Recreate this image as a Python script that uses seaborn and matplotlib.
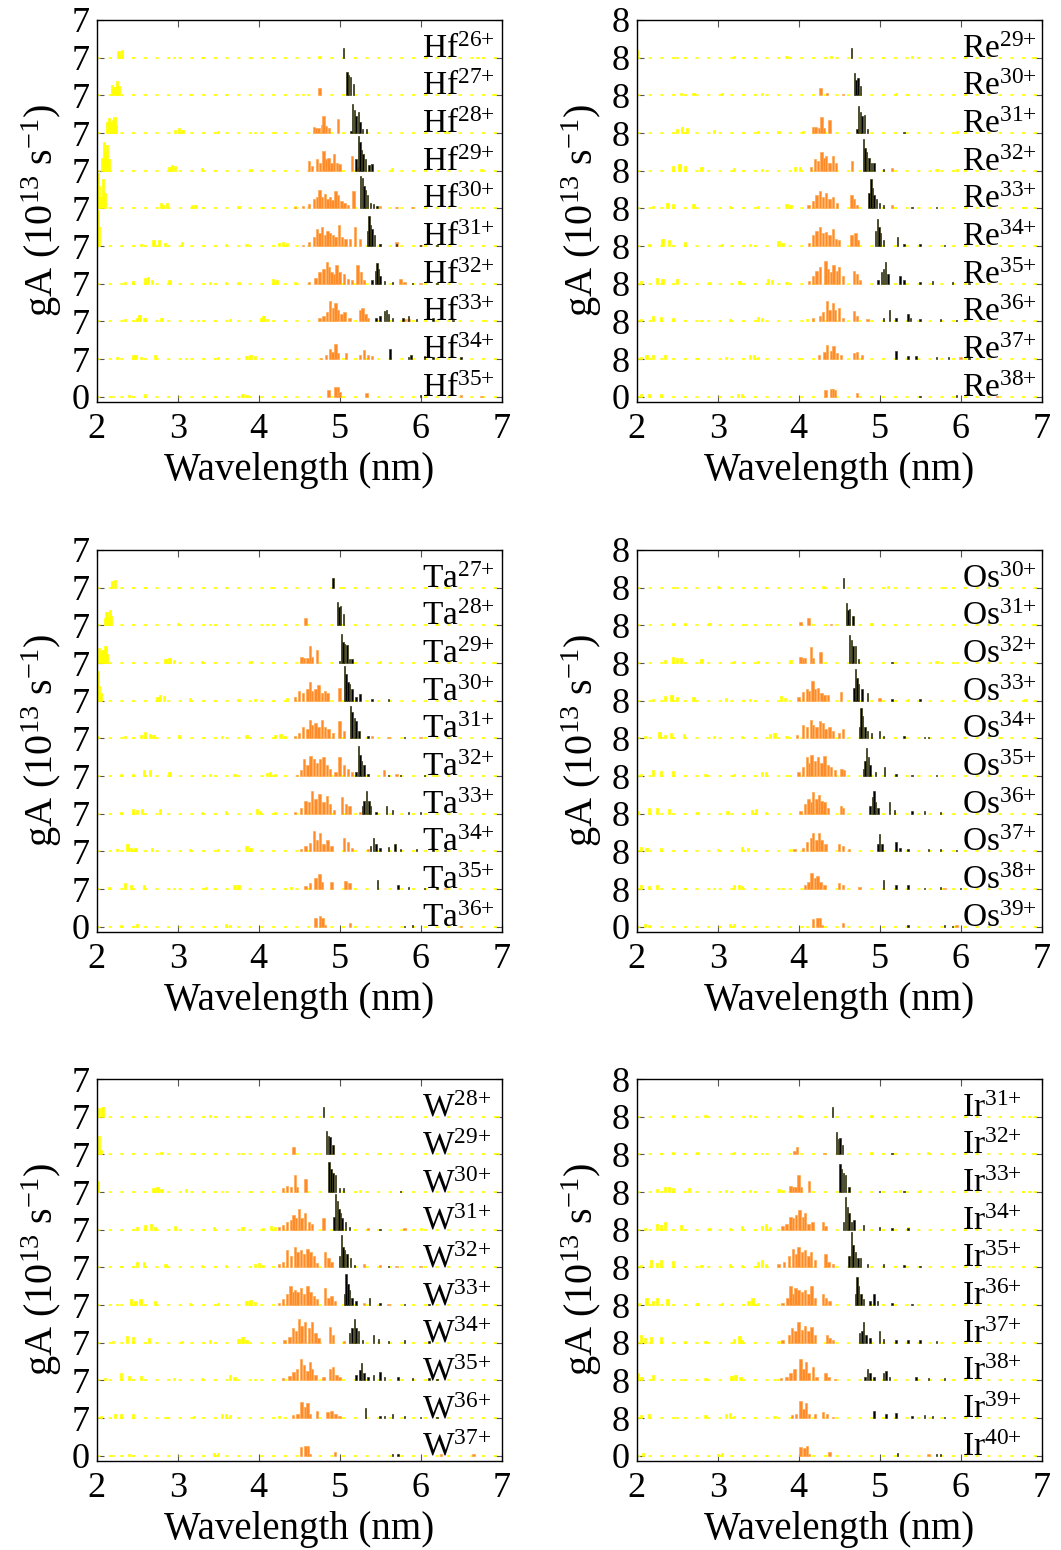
import matplotlib
matplotlib.use('Agg')
import matplotlib.pyplot as plt
import seaborn as sns

# line lists: (wavelength nm, gA in units of the offset step)
# each panel: ions from top to bottom, lines split by colour group

HF_CHARGES = ['26', '27', '28', '29', '30', '31', '32', '33', '34', '35']
HF_YELLOW = [
    [(2.27, 0.18), (2.31, 0.2), (2.95, 0.03), (3.3, 0.03), (3.9, 0.03), (4.75, 0.04), (6.7, 0.03)],
    [(2.19, 0.28), (2.22, 0.22), (2.25, 0.38), (2.27, 0.25), (3.15, 0.04), (3.6, 0.03), (4.55, 0.03), (6.9, 0.03)],
    [(2.13, 0.3), (2.15, 0.4), (2.18, 0.28), (2.2, 0.35), (2.22, 0.42), (2.24, 0.2), (2.97, 0.08), (3.02, 0.12),
     (3.06, 0.08), (3.5, 0.05), (3.95, 0.04), (4.2, 0.04), (6.3, 0.06)],
    [(2.07, 0.35), (2.09, 0.75), (2.11, 0.5), (2.13, 0.68), (2.15, 0.3), (2.9, 0.1), (2.93, 0.15), (2.97, 0.12),
     (3.3, 0.06), (3.9, 0.04), (5.65, 0.06), (6.75, 0.05)],
    [(2.01, 0.93), (2.03, 0.6), (2.05, 0.3), (2.08, 0.77), (2.1, 0.4), (2.79, 0.15), (2.82, 0.1), (2.87, 0.13),
     (3.18, 0.1), (3.22, 0.08), (3.75, 0.06), (4.05, 0.04), (4.45, 0.05), (6.7, 0.04)],
    [(2.01, 0.96), (2.03, 0.5), (2.55, 0.06), (2.7, 0.15), (2.77, 0.17), (2.84, 0.08), (3.05, 0.1), (3.6, 0.06),
     (3.85, 0.05), (4.25, 0.08), (4.3, 0.12), (4.35, 0.08), (6.35, 0.04)],
    [(2.35, 0.05), (2.45, 0.06), (2.6, 0.15), (2.63, 0.17), (2.68, 0.1), (2.9, 0.1), (3.4, 0.05), (3.6, 0.05),
     (3.75, 0.05), (4.18, 0.12), (4.22, 0.1), (4.45, 0.05)],
    [(2.35, 0.05), (2.5, 0.1), (2.53, 0.17), (2.58, 0.08), (2.6, 0.1), (2.8, 0.1), (3.25, 0.04), (3.65, 0.06),
     (4.03, 0.1), (4.06, 0.13), (4.1, 0.07), (6.8, 0.03)],
    [(2.25, 0.05), (2.45, 0.12), (2.48, 0.1), (2.55, 0.06), (2.72, 0.1), (3.1, 0.04), (3.5, 0.05), (3.85, 0.08),
     (3.9, 0.12), (3.95, 0.07)],
    [(2.2, 0.02), (2.4, 0.05), (2.6, 0.06), (3.8, 0.06), (3.85, 0.04)],
]
HF_ORANGE = [
    [],
    [(4.75, 0.2)],
    [(4.68, 0.15), (4.71, 0.14), (4.74, 0.13), (4.78, 0.2), (4.8, 0.44), (4.83, 0.18), (4.87, 0.12), (4.98, 0.38)],
    [(4.62, 0.25), (4.66, 0.12), (4.72, 0.3), (4.76, 0.2), (4.8, 0.52), (4.83, 0.3), (4.86, 0.35), (4.9, 0.2),
     (4.93, 0.45), (4.97, 0.2), (5.0, 0.18), (5.15, 0.4), (5.22, 0.1)],
    [(4.45, 0.03), (4.55, 0.05), (4.62, 0.12), (4.68, 0.25), (4.72, 0.3), (4.75, 0.48), (4.78, 0.3), (4.82, 0.38),
     (4.85, 0.25), (4.88, 0.3), (4.91, 0.22), (4.95, 0.47), (4.98, 0.35), (5.02, 0.2), (5.06, 0.15), (5.1, 0.1),
     (5.17, 0.45), (5.5, 0.05), (5.7, 0.04), (5.9, 0.03)],
    [(4.55, 0.04), (4.62, 0.1), (4.68, 0.25), (4.72, 0.45), (4.75, 0.35), (4.78, 0.5), (4.82, 0.3), (4.85, 0.4),
     (4.88, 0.35), (4.92, 0.3), (4.95, 0.25), (4.99, 0.55), (5.03, 0.25), (5.07, 0.2), (5.13, 0.2), (5.19, 0.5),
     (5.25, 0.2), (5.5, 0.06), (5.7, 0.12), (6.0, 0.04)],
    [(4.62, 0.05), (4.7, 0.15), (4.75, 0.3), (4.8, 0.4), (4.84, 0.57), (4.87, 0.45), (4.9, 0.3), (4.93, 0.25),
     (4.96, 0.5), (5.0, 0.3), (5.05, 0.25), (5.1, 0.12), (5.15, 0.1), (5.22, 0.5), (5.26, 0.3), (5.3, 0.1),
     (5.75, 0.12), (5.8, 0.05), (6.0, 0.03)],
    [(4.75, 0.08), (4.8, 0.15), (4.84, 0.25), (4.88, 0.53), (4.92, 0.35), (4.95, 0.48), (4.98, 0.3), (5.02, 0.2),
     (5.06, 0.25), (5.12, 0.1), (5.25, 0.3), (5.28, 0.35), (5.32, 0.2), (5.35, 0.1), (5.8, 0.06), (5.85, 0.05)],
    [(4.77, 0.04), (4.83, 0.1), (4.88, 0.28), (4.91, 0.2), (4.95, 0.4), (4.98, 0.15), (5.08, 0.15), (5.25, 0.1),
     (5.3, 0.25), (5.35, 0.12), (5.4, 0.08)],
    [(4.86, 0.17), (4.95, 0.27), (4.98, 0.25), (5.0, 0.12), (5.33, 0.1), (6.5, 0.04), (6.75, 0.03)],
]
HF_BLACK = [
    [(5.05, 0.25)],
    [(5.09, 0.63), (5.11, 0.55), (5.13, 0.48), (5.17, 0.3)],
    [(5.14, 0.05), (5.16, 0.78), (5.18, 0.6), (5.2, 0.45), (5.23, 0.55), (5.25, 0.3), (5.28, 0.1), (5.33, 0.1)],
    [(5.2, 0.3), (5.23, 0.92), (5.25, 0.75), (5.27, 0.55), (5.29, 0.45), (5.32, 0.3), (5.36, 0.15), (5.4, 0.18)],
    [(5.26, 0.85), (5.28, 0.8), (5.3, 0.6), (5.32, 0.5), (5.34, 0.35), (5.38, 0.15), (5.42, 0.12), (5.46, 0.06)],
    [(5.34, 0.4), (5.36, 0.8), (5.38, 0.55), (5.4, 0.45), (5.43, 0.3), (5.5, 0.05), (5.7, 0.05), (6.0, 0.03),
     (6.2, 0.03)],
    [(5.4, 0.1), (5.44, 0.35), (5.46, 0.55), (5.48, 0.4), (5.5, 0.2), (5.55, 0.08), (5.65, 0.04), (5.9, 0.03),
     (6.2, 0.03)],
    [(5.45, 0.08), (5.5, 0.15), (5.55, 0.28), (5.58, 0.3), (5.6, 0.2), (5.65, 0.1), (5.78, 0.08), (5.85, 0.15),
     (5.95, 0.05), (6.15, 0.1), (6.4, 0.04)],
    [(5.62, 0.26), (5.85, 0.06), (5.88, 0.1), (6.05, 0.08), (6.15, 0.06), (6.5, 0.05)],
    [(6.0, 0.04)],
]

TA_CHARGES = ['27', '28', '29', '30', '31', '32', '33', '34', '35', '36']
TA_YELLOW = [
    [(2.19, 0.18), (2.23, 0.2), (2.6, 0.03), (3.0, 0.03), (3.6, 0.03), (4.15, 0.03), (5.0, 0.03), (6.3, 0.03)],
    [(2.1, 0.2), (2.12, 0.35), (2.14, 0.22), (2.16, 0.4), (2.18, 0.25), (3.0, 0.06), (3.4, 0.04), (4.1, 0.04),
     (6.2, 0.05)],
    [(2.03, 0.4), (2.05, 0.3), (2.07, 0.35), (2.09, 0.3), (2.11, 0.45), (2.13, 0.25), (2.85, 0.1), (2.9, 0.12),
     (2.95, 0.08), (3.3, 0.06), (3.9, 0.05), (5.5, 0.05), (6.9, 0.04)],
    [(2.01, 0.78), (2.03, 0.4), (2.05, 0.2), (2.75, 0.1), (2.78, 0.15), (2.83, 0.12), (3.15, 0.08), (3.75, 0.05),
     (3.95, 0.05), (4.35, 0.06)],
    [(2.0, 0.05), (2.35, 0.05), (2.55, 0.1), (2.6, 0.16), (2.66, 0.12), (2.7, 0.08), (3.02, 0.1), (3.55, 0.06),
     (3.85, 0.08), (4.2, 0.08), (4.27, 0.12), (4.32, 0.06)],
    [(2.3, 0.05), (2.45, 0.05), (2.58, 0.15), (2.66, 0.16), (2.9, 0.1), (3.4, 0.05), (3.7, 0.05), (4.1, 0.08),
     (4.14, 0.12), (4.2, 0.06), (6.15, 0.04)],
    [(2.3, 0.04), (2.45, 0.12), (2.5, 0.1), (2.56, 0.12), (2.78, 0.12), (3.3, 0.04), (3.6, 0.06), (3.98, 0.12),
     (4.02, 0.08), (4.2, 0.04)],
    [(2.25, 0.05), (2.38, 0.2), (2.42, 0.1), (2.48, 0.1), (2.68, 0.1), (3.15, 0.05), (3.5, 0.06), (3.85, 0.15),
     (3.9, 0.1)],
    [(2.15, 0.05), (2.35, 0.15), (2.42, 0.1), (2.58, 0.12), (2.95, 0.04), (3.35, 0.05), (3.7, 0.12), (3.75, 0.1),
     (4.4, 0.05)],
    [(2.3, 0.04), (2.5, 0.06), (3.6, 0.06), (3.65, 0.05)],
]
TA_ORANGE = [
    [],
    [(4.58, 0.2)],
    [(4.53, 0.15), (4.56, 0.14), (4.6, 0.12), (4.63, 0.45), (4.66, 0.15), (4.72, 0.35)],
    [(4.45, 0.1), (4.5, 0.25), (4.55, 0.2), (4.6, 0.3), (4.63, 0.5), (4.66, 0.25), (4.7, 0.3), (4.74, 0.42),
     (4.78, 0.2), (4.82, 0.25), (4.85, 0.2), (5.0, 0.35)],
    [(4.45, 0.05), (4.5, 0.15), (4.55, 0.3), (4.6, 0.25), (4.63, 0.48), (4.66, 0.35), (4.7, 0.4), (4.74, 0.3),
     (4.78, 0.5), (4.82, 0.3), (4.86, 0.25), (4.92, 0.15), (5.0, 0.45), (5.05, 0.2), (5.4, 0.05), (5.6, 0.04),
     (6.0, 0.04)],
    [(4.47, 0.04), (4.52, 0.15), (4.56, 0.45), (4.6, 0.3), (4.64, 0.52), (4.68, 0.45), (4.72, 0.35), (4.76, 0.45),
     (4.8, 0.5), (4.84, 0.3), (4.88, 0.2), (4.95, 0.1), (5.0, 0.5), (5.05, 0.3), (5.1, 0.2), (5.15, 0.1),
     (5.55, 0.15), (5.7, 0.05)],
    [(4.45, 0.05), (4.52, 0.15), (4.58, 0.35), (4.62, 0.3), (4.66, 0.6), (4.7, 0.4), (4.75, 0.53), (4.8, 0.3),
     (4.84, 0.48), (4.88, 0.25), (4.93, 0.1), (5.03, 0.45), (5.08, 0.25), (5.12, 0.2), (5.25, 0.05)],
    [(4.52, 0.06), (4.58, 0.15), (4.63, 0.22), (4.68, 0.55), (4.72, 0.3), (4.76, 0.5), (4.8, 0.2), (4.85, 0.3),
     (4.9, 0.15), (5.05, 0.35), (5.1, 0.25), (5.15, 0.1), (5.35, 0.05)],
    [(4.58, 0.08), (4.63, 0.15), (4.7, 0.3), (4.75, 0.4), (4.78, 0.2), (4.9, 0.18), (5.07, 0.22), (5.12, 0.15),
     (6.3, 0.04)],
    [(4.7, 0.22), (4.76, 0.28), (4.79, 0.24), (4.82, 0.05), (5.13, 0.1), (6.5, 0.03)],
]
TA_BLACK = [
    [(4.92, 0.25)],
    [(4.97, 0.63), (4.99, 0.5), (5.01, 0.52), (5.05, 0.3)],
    [(5.0, 0.05), (5.02, 0.78), (5.04, 0.55), (5.06, 0.5), (5.09, 0.48), (5.12, 0.1), (5.15, 0.1)],
    [(5.06, 0.92), (5.08, 0.7), (5.1, 0.5), (5.12, 0.45), (5.15, 0.3), (5.2, 0.1), (5.25, 0.18), (5.4, 0.05),
     (5.6, 0.04)],
    [(5.13, 0.85), (5.15, 0.7), (5.18, 0.55), (5.2, 0.45), (5.24, 0.2), (5.35, 0.06), (5.8, 0.03)],
    [(5.2, 0.1), (5.23, 0.8), (5.25, 0.55), (5.27, 0.4), (5.3, 0.3), (5.35, 0.06), (5.6, 0.04), (5.75, 0.04),
     (6.05, 0.03)],
    [(5.28, 0.2), (5.3, 0.35), (5.33, 0.6), (5.36, 0.35), (5.38, 0.2), (5.45, 0.05), (5.58, 0.2), (5.65, 0.1),
     (5.85, 0.05), (6.0, 0.04)],
    [(5.38, 0.15), (5.42, 0.35), (5.45, 0.2), (5.5, 0.08), (5.6, 0.12), (5.68, 0.2), (5.75, 0.05), (5.95, 0.06),
     (6.15, 0.06), (6.3, 0.04)],
    [(5.47, 0.25), (5.72, 0.1), (5.85, 0.06), (6.05, 0.04), (6.2, 0.05)],
    [(5.8, 0.03), (5.9, 0.04)],
]

W_CHARGES = ['28', '29', '30', '31', '32', '33', '34', '35', '36', '37']
W_YELLOW = [
    [(2.03, 0.22), (2.07, 0.25), (2.6, 0.03), (3.4, 0.04), (3.85, 0.03), (4.65, 0.03), (5.7, 0.03), (6.95, 0.03)],
    [(2.03, 0.5), (2.05, 0.12), (2.8, 0.06), (3.2, 0.04), (3.8, 0.03), (4.7, 0.03), (5.5, 0.04), (6.95, 0.03)],
    [(2.01, 0.28), (2.02, 0.1), (2.7, 0.1), (2.75, 0.12), (2.8, 0.08), (3.1, 0.07), (3.55, 0.04), (3.9, 0.04),
     (5.25, 0.05), (6.5, 0.04)],
    [(2.5, 0.08), (2.6, 0.13), (2.67, 0.15), (2.72, 0.08), (2.97, 0.1), (3.45, 0.06), (3.8, 0.06), (4.05, 0.05),
     (4.15, 0.1), (4.2, 0.08), (6.0, 0.05)],
    [(2.3, 0.04), (2.5, 0.15), (2.58, 0.13), (2.85, 0.1), (3.3, 0.05), (3.6, 0.06), (3.95, 0.08), (4.0, 0.12),
     (4.05, 0.07)],
    [(2.25, 0.04), (2.42, 0.15), (2.48, 0.1), (2.54, 0.15), (2.72, 0.1), (3.15, 0.05), (3.5, 0.05), (3.85, 0.1),
     (3.9, 0.14), (3.95, 0.07), (6.8, 0.04)],
    [(2.2, 0.05), (2.37, 0.18), (2.45, 0.15), (2.65, 0.12), (3.05, 0.05), (3.4, 0.06), (3.75, 0.1), (3.8, 0.15),
     (3.85, 0.08)],
    [(2.1, 0.05), (2.3, 0.2), (2.4, 0.12), (2.55, 0.12), (2.95, 0.05), (3.3, 0.06), (3.65, 0.15), (3.7, 0.1),
     (3.95, 0.04)],
    [(2.05, 0.06), (2.23, 0.12), (2.3, 0.1), (2.45, 0.12), (2.85, 0.04), (3.2, 0.06), (3.55, 0.1), (3.6, 0.12),
     (3.65, 0.08), (4.25, 0.05)],
    [(2.2, 0.03), (2.4, 0.05), (3.45, 0.06), (3.5, 0.06)],
]
W_ORANGE = [
    [],
    [(4.43, 0.2)],
    [(4.3, 0.1), (4.35, 0.15), (4.4, 0.12), (4.45, 0.45), (4.47, 0.12), (4.58, 0.35)],
    [(4.25, 0.08), (4.3, 0.12), (4.35, 0.2), (4.4, 0.25), (4.43, 0.4), (4.46, 0.3), (4.5, 0.55), (4.53, 0.3),
     (4.57, 0.45), (4.62, 0.2), (4.66, 0.15), (4.8, 0.3), (5.35, 0.05), (5.8, 0.04)],
    [(4.25, 0.08), (4.3, 0.15), (4.35, 0.45), (4.4, 0.3), (4.45, 0.55), (4.48, 0.4), (4.52, 0.45), (4.56, 0.35),
     (4.6, 0.5), (4.64, 0.4), (4.68, 0.3), (4.72, 0.12), (4.82, 0.4), (4.86, 0.25), (4.9, 0.15), (5.3, 0.1),
     (5.5, 0.05), (5.7, 0.04), (6.0, 0.03)],
    [(4.25, 0.05), (4.3, 0.15), (4.35, 0.3), (4.39, 0.5), (4.42, 0.35), (4.45, 0.4), (4.48, 0.35), (4.52, 0.45),
     (4.56, 0.3), (4.6, 0.5), (4.64, 0.35), (4.68, 0.25), (4.72, 0.15), (4.82, 0.45), (4.86, 0.2), (4.9, 0.25),
     (4.94, 0.1), (5.3, 0.06), (5.6, 0.04)],
    [(4.32, 0.06), (4.38, 0.15), (4.42, 0.4), (4.46, 0.3), (4.5, 0.62), (4.53, 0.45), (4.57, 0.55), (4.62, 0.4),
     (4.66, 0.55), (4.7, 0.25), (4.74, 0.12), (4.88, 0.42), (4.92, 0.2), (5.05, 0.05)],
    [(4.3, 0.05), (4.38, 0.12), (4.43, 0.22), (4.47, 0.3), (4.52, 0.58), (4.56, 0.4), (4.6, 0.25), (4.63, 0.5),
     (4.66, 0.3), (4.7, 0.15), (4.8, 0.1), (4.88, 0.3), (4.92, 0.35), (4.96, 0.15), (5.0, 0.08)],
    [(4.42, 0.08), (4.48, 0.12), (4.53, 0.42), (4.57, 0.3), (4.6, 0.4), (4.63, 0.1), (4.72, 0.18), (4.85, 0.15),
     (4.9, 0.2), (4.95, 0.12), (5.0, 0.05)],
    [(4.52, 0.22), (4.58, 0.27), (4.61, 0.26), (4.63, 0.05), (4.94, 0.1), (6.25, 0.04), (6.65, 0.04)],
]
W_BLACK = [
    [(4.8, 0.25)],
    [(4.84, 0.62), (4.86, 0.5), (4.88, 0.45), (4.92, 0.25)],
    [(4.87, 0.8), (4.89, 0.6), (4.92, 0.5), (4.95, 0.45), (5.0, 0.1), (5.05, 0.1), (5.75, 0.04)],
    [(4.93, 0.35), (4.95, 0.95), (4.97, 0.75), (4.99, 0.55), (5.01, 0.45), (5.03, 0.3), (5.07, 0.2), (5.12, 0.08),
     (5.5, 0.03)],
    [(5.0, 0.3), (5.02, 0.85), (5.04, 0.55), (5.06, 0.45), (5.09, 0.35), (5.13, 0.25), (5.18, 0.06), (5.6, 0.03)],
    [(5.06, 0.3), (5.08, 0.82), (5.1, 0.55), (5.12, 0.4), (5.15, 0.2), (5.2, 0.1), (5.37, 0.2), (5.5, 0.05),
     (5.8, 0.04), (6.1, 0.03)],
    [(5.12, 0.25), (5.15, 0.4), (5.18, 0.62), (5.2, 0.4), (5.23, 0.3), (5.28, 0.06), (5.42, 0.2), (5.48, 0.1),
     (5.6, 0.04), (5.8, 0.08), (6.1, 0.04)],
    [(5.2, 0.15), (5.25, 0.28), (5.27, 0.45), (5.3, 0.2), (5.35, 0.08), (5.42, 0.15), (5.5, 0.22), (5.55, 0.1),
     (5.72, 0.08), (5.9, 0.06), (6.1, 0.05), (6.2, 0.04)],
    [(5.32, 0.28), (5.5, 0.05), (5.55, 0.06), (5.65, 0.1), (5.8, 0.05), (6.0, 0.04), (6.2, 0.04)],
    [(5.65, 0.04), (5.72, 0.04)],
]

RE_CHARGES = ['29', '30', '31', '32', '33', '34', '35', '36', '37', '38']
RE_YELLOW = [
    [(2.0, 0.2), (2.5, 0.03), (3.2, 0.04), (3.85, 0.04), (4.4, 0.04), (5.4, 0.04), (6.9, 0.03)],
    [(2.55, 0.06), (2.7, 0.07), (3.05, 0.07), (3.55, 0.05), (5.2, 0.05), (5.35, 0.04)],
    [(2.5, 0.1), (2.56, 0.15), (2.62, 0.12), (2.95, 0.08), (3.5, 0.05), (3.75, 0.05), (4.05, 0.06), (5.95, 0.05)],
    [(2.45, 0.12), (2.53, 0.18), (2.6, 0.12), (2.8, 0.1), (3.2, 0.06), (3.55, 0.05), (3.95, 0.1), (4.02, 0.1),
     (5.7, 0.05), (5.95, 0.04)],
    [(2.2, 0.05), (2.38, 0.15), (2.45, 0.12), (2.7, 0.12), (3.15, 0.06), (3.5, 0.05), (3.85, 0.12), (3.9, 0.08),
     (6.8, 0.04)],
    [(2.15, 0.05), (2.32, 0.18), (2.4, 0.15), (2.6, 0.12), (3.05, 0.05), (3.4, 0.05), (3.75, 0.14), (3.8, 0.08),
     (6.6, 0.03)],
    [(2.05, 0.08), (2.25, 0.15), (2.32, 0.12), (2.5, 0.12), (2.9, 0.05), (3.27, 0.06), (3.62, 0.13), (3.67, 0.1),
     (3.85, 0.04)],
    [(2.05, 0.06), (2.2, 0.15), (2.3, 0.12), (2.45, 0.1), (2.8, 0.04), (3.15, 0.07), (3.5, 0.12), (3.55, 0.1),
     (4.1, 0.05)],
    [(2.05, 0.06), (2.12, 0.12), (2.2, 0.1), (2.35, 0.1), (2.75, 0.04), (3.1, 0.05), (3.4, 0.12), (3.45, 0.1),
     (3.5, 0.06), (4.0, 0.04)],
    [(2.05, 0.06), (2.15, 0.06), (2.3, 0.06), (3.25, 0.08), (3.3, 0.06)],
]
RE_ORANGE = [
    [],
    [(4.27, 0.2), (4.35, 0.05), (4.55, 0.04)],
    [(4.18, 0.15), (4.21, 0.15), (4.25, 0.12), (4.28, 0.42), (4.31, 0.12), (4.38, 0.35)],
    [(4.15, 0.1), (4.2, 0.3), (4.24, 0.25), (4.28, 0.5), (4.31, 0.35), (4.34, 0.4), (4.38, 0.2), (4.42, 0.38),
     (4.46, 0.2), (4.66, 0.25), (5.15, 0.06)],
    [(4.12, 0.08), (4.18, 0.2), (4.22, 0.35), (4.26, 0.45), (4.3, 0.3), (4.34, 0.42), (4.38, 0.25), (4.42, 0.3),
     (4.47, 0.15), (4.65, 0.35), (4.68, 0.25), (4.72, 0.1), (5.15, 0.08)],
    [(4.13, 0.08), (4.18, 0.3), (4.22, 0.4), (4.26, 0.5), (4.3, 0.35), (4.34, 0.38), (4.38, 0.3), (4.42, 0.45),
     (4.46, 0.2), (4.5, 0.15), (4.65, 0.3), (4.7, 0.35), (4.73, 0.15)],
    [(4.13, 0.06), (4.18, 0.2), (4.22, 0.35), (4.26, 0.45), (4.33, 0.6), (4.36, 0.4), (4.4, 0.3), (4.43, 0.5),
     (4.47, 0.35), (4.5, 0.45), (4.55, 0.2), (4.68, 0.35), (4.72, 0.25), (4.76, 0.1)],
    [(4.18, 0.08), (4.26, 0.15), (4.3, 0.25), (4.35, 0.55), (4.38, 0.3), (4.42, 0.5), (4.45, 0.3), (4.5, 0.35),
     (4.55, 0.1), (4.68, 0.28), (4.72, 0.15), (4.85, 0.05)],
    [(4.25, 0.1), (4.32, 0.2), (4.35, 0.38), (4.4, 0.22), (4.43, 0.35), (4.47, 0.15), (4.52, 0.1), (4.68, 0.15),
     (4.72, 0.2), (4.78, 0.1), (6.0, 0.05)],
    [(4.33, 0.18), (4.4, 0.2), (4.42, 0.2), (4.45, 0.18), (4.72, 0.1), (6.45, 0.03)],
]
RE_BLACK = [
    [(4.65, 0.25)],
    [(4.69, 0.58), (4.71, 0.42), (4.73, 0.45), (4.76, 0.25)],
    [(4.72, 0.1), (4.74, 0.72), (4.76, 0.55), (4.78, 0.45), (4.81, 0.47), (4.85, 0.1), (5.3, 0.04)],
    [(4.8, 0.85), (4.82, 0.6), (4.84, 0.5), (4.87, 0.35), (4.9, 0.2), (4.93, 0.2), (5.05, 0.05)],
    [(4.87, 0.4), (4.89, 0.78), (4.91, 0.55), (4.93, 0.35), (4.96, 0.25), (5.0, 0.15), (5.05, 0.1), (5.4, 0.04),
     (5.7, 0.04)],
    [(4.95, 0.4), (4.97, 0.72), (4.99, 0.5), (5.01, 0.35), (5.05, 0.15), (5.22, 0.25), (5.3, 0.06), (5.5, 0.05),
     (5.8, 0.03)],
    [(4.98, 0.1), (5.02, 0.3), (5.05, 0.4), (5.07, 0.58), (5.1, 0.25), (5.25, 0.2), (5.3, 0.1), (5.5, 0.05),
     (5.65, 0.08), (5.9, 0.04), (6.1, 0.03)],
    [(5.05, 0.08), (5.12, 0.3), (5.2, 0.08), (5.35, 0.2), (5.38, 0.1), (5.5, 0.05), (5.75, 0.05), (5.95, 0.04)],
    [(5.2, 0.22), (5.35, 0.08), (5.45, 0.08), (5.7, 0.05), (5.85, 0.05), (6.1, 0.04)],
    [(5.5, 0.03), (5.95, 0.04)],
]

OS_CHARGES = ['30', '31', '32', '33', '34', '35', '36', '37', '38', '39']
OS_YELLOW = [
    [(2.5, 0.03), (3.0, 0.05), (3.6, 0.03), (4.3, 0.04), (5.1, 0.04), (5.8, 0.03)],
    [(2.45, 0.05), (2.6, 0.06), (2.9, 0.05), (3.35, 0.04), (3.65, 0.04), (4.9, 0.05), (6.9, 0.04)],
    [(2.35, 0.07), (2.45, 0.15), (2.5, 0.12), (2.55, 0.13), (2.8, 0.1), (3.2, 0.05), (3.5, 0.05), (3.9, 0.07),
     (5.7, 0.05), (5.95, 0.04)],
    [(2.2, 0.05), (2.35, 0.12), (2.43, 0.15), (2.5, 0.1), (2.7, 0.1), (3.1, 0.06), (3.4, 0.05), (3.78, 0.12),
     (3.83, 0.08), (5.35, 0.05), (6.8, 0.04)],
    [(2.1, 0.05), (2.28, 0.16), (2.35, 0.1), (2.42, 0.14), (2.58, 0.12), (2.95, 0.05), (3.3, 0.06), (3.65, 0.12),
     (3.7, 0.14), (3.85, 0.05), (6.5, 0.03)],
    [(2.05, 0.06), (2.2, 0.15), (2.3, 0.14), (2.45, 0.14), (2.85, 0.05), (3.2, 0.06), (3.55, 0.12), (3.6, 0.1),
     (3.85, 0.04), (6.8, 0.03)],
    [(2.02, 0.06), (2.15, 0.15), (2.25, 0.15), (2.4, 0.12), (2.75, 0.05), (3.12, 0.06), (3.42, 0.1), (3.47, 0.12),
     (3.6, 0.05)],
    [(2.05, 0.12), (2.12, 0.1), (2.3, 0.1), (2.6, 0.04), (3.0, 0.05), (3.3, 0.12), (3.37, 0.1), (3.6, 0.04),
     (3.9, 0.05)],
    [(2.05, 0.1), (2.15, 0.08), (2.25, 0.1), (2.6, 0.03), (2.95, 0.04), (3.2, 0.1), (3.26, 0.12), (3.3, 0.08),
     (3.8, 0.04)],
    [(2.1, 0.06), (2.15, 0.04), (3.15, 0.08), (3.2, 0.06), (4.1, 0.03)],
]
OS_ORANGE = [
    [],
    [(4.02, 0.08), (4.12, 0.2), (4.4, 0.04)],
    [(4.02, 0.15), (4.05, 0.12), (4.08, 0.12), (4.15, 0.42), (4.18, 0.12), (4.27, 0.3)],
    [(4.0, 0.1), (4.05, 0.22), (4.1, 0.3), (4.13, 0.25), (4.17, 0.52), (4.2, 0.3), (4.24, 0.35), (4.28, 0.2),
     (4.32, 0.15), (4.36, 0.15), (4.52, 0.22), (5.0, 0.08)],
    [(3.98, 0.08), (4.05, 0.35), (4.1, 0.3), (4.15, 0.5), (4.18, 0.35), (4.22, 0.3), (4.26, 0.45), (4.3, 0.4),
     (4.33, 0.25), (4.38, 0.3), (4.42, 0.2), (4.5, 0.15), (4.55, 0.25)],
    [(4.0, 0.1), (4.05, 0.25), (4.1, 0.5), (4.13, 0.35), (4.16, 0.55), (4.2, 0.4), (4.24, 0.5), (4.28, 0.35),
     (4.32, 0.52), (4.36, 0.3), (4.4, 0.25), (4.45, 0.15), (4.53, 0.2), (4.56, 0.15)],
    [(4.02, 0.08), (4.08, 0.25), (4.12, 0.4), (4.16, 0.3), (4.18, 0.58), (4.22, 0.4), (4.25, 0.5), (4.28, 0.35),
     (4.32, 0.3), (4.36, 0.15), (4.52, 0.2), (4.55, 0.15)],
    [(3.95, 0.05), (4.05, 0.1), (4.1, 0.25), (4.15, 0.35), (4.18, 0.5), (4.22, 0.3), (4.25, 0.48), (4.28, 0.3),
     (4.33, 0.2), (4.5, 0.2), (4.55, 0.15), (4.62, 0.05)],
    [(4.08, 0.12), (4.12, 0.2), (4.16, 0.42), (4.2, 0.3), (4.23, 0.35), (4.27, 0.2), (4.32, 0.12), (4.5, 0.15),
     (4.55, 0.1), (4.75, 0.05), (5.8, 0.04)],
    [(4.18, 0.2), (4.23, 0.22), (4.26, 0.22), (4.29, 0.05), (4.55, 0.1), (5.95, 0.04)],
]
OS_BLACK = [
    [(4.55, 0.25)],
    [(4.59, 0.6), (4.61, 0.42), (4.63, 0.44), (4.67, 0.25)],
    [(4.63, 0.75), (4.65, 0.6), (4.67, 0.45), (4.7, 0.45), (4.74, 0.1), (5.15, 0.04)],
    [(4.68, 0.35), (4.7, 0.85), (4.72, 0.6), (4.74, 0.45), (4.78, 0.3), (4.85, 0.2), (5.15, 0.05), (5.5, 0.04)],
    [(4.75, 0.3), (4.77, 0.8), (4.79, 0.6), (4.82, 0.3), (4.85, 0.2), (4.9, 0.15), (5.0, 0.2), (5.05, 0.05),
     (5.3, 0.05), (5.55, 0.04), (5.6, 0.04)],
    [(4.8, 0.2), (4.82, 0.4), (4.84, 0.75), (4.86, 0.5), (4.88, 0.3), (4.95, 0.1), (5.06, 0.25), (5.2, 0.05),
     (5.4, 0.04), (5.7, 0.04)],
    [(4.88, 0.2), (4.91, 0.45), (4.93, 0.6), (4.95, 0.3), (4.98, 0.15), (5.12, 0.3), (5.18, 0.1), (5.4, 0.06),
     (5.55, 0.06), (5.75, 0.04)],
    [(4.98, 0.2), (5.0, 0.45), (5.03, 0.2), (5.2, 0.25), (5.25, 0.1), (5.35, 0.05), (5.6, 0.06), (5.75, 0.06),
     (5.95, 0.04)],
    [(5.05, 0.25), (5.2, 0.1), (5.35, 0.1), (5.55, 0.04), (5.75, 0.05), (6.0, 0.04)],
    [(5.35, 0.04), (5.8, 0.04), (5.9, 0.03)],
]

IR_CHARGES = ['31', '32', '33', '34', '35', '36', '37', '38', '39', '40']
IR_YELLOW = [
    [(2.45, 0.04), (2.85, 0.05), (3.4, 0.04), (4.0, 0.05), (4.9, 0.04), (6.85, 0.03)],
    [(2.3, 0.04), (2.45, 0.06), (2.75, 0.07), (3.2, 0.05), (3.55, 0.04), (4.9, 0.05), (5.6, 0.05), (6.9, 0.04)],
    [(2.25, 0.07), (2.35, 0.12), (2.4, 0.13), (2.45, 0.1), (2.65, 0.1), (3.1, 0.05), (3.4, 0.05), (3.75, 0.08),
     (3.8, 0.06), (5.25, 0.05), (5.5, 0.05), (6.85, 0.04)],
    [(2.1, 0.05), (2.25, 0.15), (2.3, 0.12), (2.35, 0.2), (2.55, 0.12), (2.9, 0.05), (3.15, 0.05), (3.3, 0.1),
     (3.55, 0.1), (3.6, 0.15), (3.65, 0.08), (5.35, 0.06)],
    [(2.05, 0.06), (2.18, 0.2), (2.25, 0.12), (2.3, 0.2), (2.45, 0.18), (2.8, 0.06), (3.15, 0.1), (3.3, 0.06),
     (3.5, 0.15), (3.55, 0.2), (3.6, 0.1), (6.4, 0.04)],
    [(2.03, 0.06), (2.12, 0.18), (2.2, 0.12), (2.25, 0.2), (2.38, 0.15), (2.75, 0.05), (3.05, 0.06), (3.38, 0.1),
     (3.43, 0.18), (3.5, 0.06)],
    [(2.05, 0.2), (2.1, 0.12), (2.18, 0.15), (2.3, 0.14), (2.6, 0.05), (2.85, 0.05), (3.2, 0.1), (3.27, 0.18),
     (3.3, 0.08), (3.75, 0.04)],
    [(2.02, 0.2), (2.06, 0.1), (2.2, 0.15), (2.55, 0.04), (2.85, 0.06), (3.17, 0.12), (3.22, 0.15), (3.28, 0.1),
     (3.7, 0.04), (6.9, 0.04)],
    [(2.05, 0.08), (2.15, 0.1), (2.5, 0.03), (2.85, 0.07), (3.1, 0.1), (3.15, 0.14), (3.2, 0.06), (3.7, 0.05)],
    [(2.08, 0.06), (3.0, 0.05), (3.05, 0.06), (3.6, 0.03)],
]
IR_ORANGE = [
    [],
    [(3.95, 0.08), (3.98, 0.2), (4.32, 0.04)],
    [(3.9, 0.15), (3.93, 0.12), (3.96, 0.12), (4.0, 0.45), (4.03, 0.12), (4.13, 0.3)],
    [(3.8, 0.1), (3.85, 0.15), (3.9, 0.35), (3.93, 0.3), (3.97, 0.4), (4.01, 0.52), (4.05, 0.35), (4.08, 0.45),
     (4.12, 0.15), (4.17, 0.2), (4.3, 0.2), (4.33, 0.1)],
    [(3.75, 0.1), (3.82, 0.15), (3.88, 0.3), (3.93, 0.5), (3.97, 0.35), (4.0, 0.55), (4.04, 0.4), (4.08, 0.45),
     (4.12, 0.3), (4.15, 0.4), (4.2, 0.2), (4.33, 0.35), (4.37, 0.15), (4.42, 0.1)],
    [(3.8, 0.06), (3.86, 0.2), (3.9, 0.5), (3.93, 0.3), (3.96, 0.45), (4.0, 0.4), (4.04, 0.35), (4.08, 0.4),
     (4.12, 0.3), (4.16, 0.5), (4.2, 0.2), (4.3, 0.3), (4.34, 0.2), (4.38, 0.1)],
    [(3.8, 0.08), (3.88, 0.2), (3.92, 0.38), (3.96, 0.3), (4.0, 0.55), (4.04, 0.35), (4.08, 0.45), (4.12, 0.3),
     (4.16, 0.42), (4.2, 0.2), (4.35, 0.2), (4.38, 0.12), (4.42, 0.06)],
    [(3.78, 0.05), (3.85, 0.08), (3.9, 0.2), (3.95, 0.3), (4.02, 0.58), (4.06, 0.3), (4.09, 0.5), (4.12, 0.2),
     (4.18, 0.35), (4.22, 0.1), (4.33, 0.2), (4.37, 0.1), (4.45, 0.04)],
    [(3.92, 0.08), (3.97, 0.12), (4.02, 0.45), (4.06, 0.25), (4.09, 0.4), (4.13, 0.12), (4.2, 0.1), (4.3, 0.15),
     (4.35, 0.12), (4.42, 0.04)],
    [(4.02, 0.22), (4.07, 0.2), (4.1, 0.25), (4.13, 0.05), (4.38, 0.1), (5.6, 0.04)],
]
IR_BLACK = [
    [(4.42, 0.25)],
    [(4.47, 0.6), (4.49, 0.42), (4.51, 0.44), (4.54, 0.25), (5.15, 0.03)],
    [(4.51, 0.75), (4.53, 0.6), (4.55, 0.5), (4.58, 0.45), (4.62, 0.12), (5.0, 0.04), (5.3, 0.03)],
    [(4.55, 0.2), (4.58, 0.88), (4.6, 0.6), (4.62, 0.45), (4.65, 0.2), (4.68, 0.25), (4.8, 0.12), (5.0, 0.08),
     (5.15, 0.04), (5.35, 0.05)],
    [(4.62, 0.3), (4.65, 0.95), (4.67, 0.6), (4.7, 0.4), (4.73, 0.25), (4.76, 0.25), (4.85, 0.1), (5.05, 0.1),
     (5.3, 0.05), (5.5, 0.04)],
    [(4.7, 0.3), (4.72, 0.75), (4.74, 0.5), (4.77, 0.3), (4.8, 0.15), (4.88, 0.1), (4.93, 0.3), (4.97, 0.12),
     (5.15, 0.05), (5.4, 0.04)],
    [(4.75, 0.25), (4.78, 0.3), (4.8, 0.55), (4.83, 0.2), (4.88, 0.12), (5.0, 0.3), (5.05, 0.1), (5.2, 0.08),
     (5.35, 0.08), (5.5, 0.06), (5.7, 0.04)],
    [(4.82, 0.1), (4.85, 0.3), (4.88, 0.2), (4.93, 0.1), (5.05, 0.2), (5.08, 0.25), (5.12, 0.1), (5.45, 0.08),
     (5.6, 0.05), (5.8, 0.05)],
    [(4.93, 0.2), (5.08, 0.12), (5.2, 0.14), (5.4, 0.05), (5.55, 0.08), (5.65, 0.06), (5.8, 0.04)],
    [(5.22, 0.08), (5.7, 0.05), (5.75, 0.04)],
]

sns.set_style('ticks')
plt.rcParams['font.family'] = ['Liberation Serif', 'DejaVu Serif']
plt.rcParams['mathtext.fontset'] = 'custom'
plt.rcParams['mathtext.rm'] = 'Liberation Serif'
plt.rcParams['mathtext.it'] = 'Liberation Serif:italic'
plt.rcParams['mathtext.bf'] = 'Liberation Serif:bold'
plt.rcParams['text.color'] = 'black'
plt.rcParams['axes.labelcolor'] = 'black'
plt.rcParams['xtick.color'] = 'black'
plt.rcParams['ytick.color'] = 'black'

YELLOW = '#ffff00'
ORANGE = '#ff8a2a'
ORANGE_EDGE = '#ffa850'
BLACK = '#000000'
BLACK_EDGE = '#3c3c14'


def draw_panel(ax, element, charges, yellow, orange, black, digit):
    n = len(charges)
    for i in range(n):
        base = n - 1 - i
        ax.hlines(base, 2, 7, color=YELLOW, lw=1.2, linestyles=(0, (2, 5)), zorder=1)
        groups = [(yellow[i], YELLOW, YELLOW, 0.028, 2),
                  (orange[i], ORANGE, ORANGE_EDGE, 0.03, 3),
                  (black[i], BLACK, BLACK_EDGE, 0.018, 4)]
        for lines, fc, ec, w, z in groups:
            if lines:
                wl = [p[0] for p in lines]
                h = [p[1] for p in lines]
                ax.bar(wl, h, width=w, bottom=base, color=fc, edgecolor=ec, linewidth=0.5, zorder=z)
        ax.text(6.02, base, element + '$^{' + charges[i] + '{+}}$', fontsize=24,
                ha='left', va='baseline', zorder=6)
    ax.set_xlim(2, 7)
    ax.set_ylim(-0.14, n)
    ax.set_xticks([2, 3, 4, 5, 6, 7])
    ax.set_yticks(range(n + 1))
    ax.set_yticklabels(['0'] + [digit] * n)
    ax.tick_params(direction='in', top=True, right=True, length=5, width=0.8,
                   color='#555555', labelcolor='black', labelsize=26)
    ax.tick_params(axis='x', pad=8)
    ax.tick_params(axis='y', pad=5)
    for s in ax.spines.values():
        s.set_color('black')
        s.set_linewidth(1.0)
    ax.set_xlabel('Wavelength (nm)', fontsize=28)
    ax.set_ylabel('gA (10$^{13}$ s$^{-1}$)', fontsize=29)
    ax.xaxis.set_label_coords(0.5, -0.13)
    ax.yaxis.set_label_coords(-0.08, 0.5)


fig = plt.figure(figsize=(10.61, 15.5), dpi=100)
W_AX = 405 / 1061
H_AX = 382 / 1550
lefts = [96.7 / 1061, 636.7 / 1061]
bottoms = [1 - 402 / 1550, 1 - 932 / 1550, 1 - 1461 / 1550]

panels = [
    (0, 0, 'Hf', HF_CHARGES, HF_YELLOW, HF_ORANGE, HF_BLACK, '7'),
    (0, 1, 'Re', RE_CHARGES, RE_YELLOW, RE_ORANGE, RE_BLACK, '8'),
    (1, 0, 'Ta', TA_CHARGES, TA_YELLOW, TA_ORANGE, TA_BLACK, '7'),
    (1, 1, 'Os', OS_CHARGES, OS_YELLOW, OS_ORANGE, OS_BLACK, '8'),
    (2, 0, 'W', W_CHARGES, W_YELLOW, W_ORANGE, W_BLACK, '7'),
    (2, 1, 'Ir', IR_CHARGES, IR_YELLOW, IR_ORANGE, IR_BLACK, '8'),
]
for r, c, el, ch, ye, orr, bl, dg in panels:
    ax = fig.add_axes([lefts[c], bottoms[r], W_AX, H_AX])
    draw_panel(ax, el, ch, ye, orr, bl, dg)

fig.savefig('out.png', dpi=100)
